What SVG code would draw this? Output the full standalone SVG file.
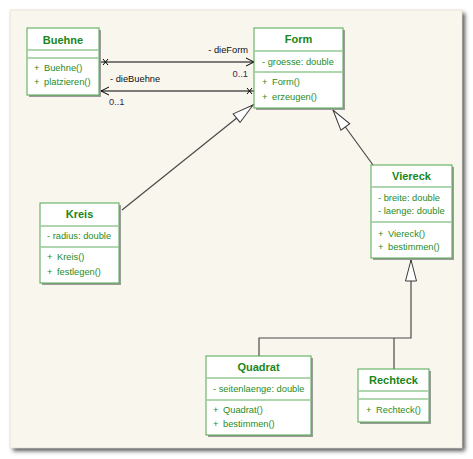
<svg xmlns="http://www.w3.org/2000/svg" width="473" height="459" viewBox="0 0 473 459">
<style>
.box{fill:#ffffff;stroke:#4ea64e;stroke-width:1}
.shd{fill:#9c9c9c}
.sep{stroke:#94c994;stroke-width:1.3}
.ttl{font-family:"Liberation Sans",Arial,sans-serif;font-size:11px;font-weight:bold;fill:#1a861a;text-anchor:middle}
.mem{font-family:"Liberation Sans",Arial,sans-serif;font-size:9.3px;fill:#1f8c1f}
.lbl{font-family:"Liberation Sans",Arial,sans-serif;font-size:9.3px;fill:#111111}
.mul{font-family:"Liberation Sans",Arial,sans-serif;font-size:9.3px;fill:#3a1f4f}
.assoc{stroke:#000000;stroke-width:1;fill:none}
.gen{stroke:#4a4a4a;stroke-width:1.2;fill:none}
</style>
<defs>
<filter id="pblur" x="-5%" y="-5%" width="110%" height="110%"><feGaussianBlur stdDeviation="2"/></filter>
<filter id="bblur" x="-10%" y="-10%" width="120%" height="120%"><feGaussianBlur stdDeviation="0.6"/></filter>
<marker id="tri" markerUnits="userSpaceOnUse" markerWidth="24" markerHeight="14" viewBox="-22 -7 24 14" refX="0" refY="0" orient="auto" overflow="visible">
<path d="M0,0 L-21,-5.5 L-21,5.5 Z" fill="#ffffff" stroke="#3a3a3a" stroke-width="1"/>
</marker>
<marker id="open" markerUnits="userSpaceOnUse" markerWidth="12" markerHeight="12" viewBox="-10 -6 12 12" refX="0" refY="0" orient="auto-start-reverse" overflow="visible">
<path d="M-8,-4 L0,0 L-8,4" fill="none" stroke="#000000" stroke-width="1"/>
</marker>
<marker id="xs" markerUnits="userSpaceOnUse" markerWidth="12" markerHeight="12" viewBox="-2 -6 12 12" refX="0" refY="0" orient="auto" overflow="visible">
<path d="M2,-3 L7,3 M2,3 L7,-3" fill="none" stroke="#000000" stroke-width="1"/>
</marker>
<marker id="xe" markerUnits="userSpaceOnUse" markerWidth="12" markerHeight="12" viewBox="-10 -6 12 12" refX="0" refY="0" orient="auto" overflow="visible">
<path d="M-2,-3 L-7,3 M-2,3 L-7,-3" fill="none" stroke="#000000" stroke-width="1"/>
</marker>
</defs>
<rect x="0" y="0" width="473" height="459" fill="#ffffff"/>
<rect x="13" y="13" width="452" height="438" fill="#555555" filter="url(#pblur)"/>
<rect x="10" y="10" width="452" height="438" fill="#f9f6ee" stroke="#e6e2d8" stroke-width="0.8"/>

<g id="connectors">
<line class="assoc" x1="101" y1="62" x2="254" y2="62" marker-start="url(#xs)" marker-end="url(#open)"/>
<line class="assoc" x1="101" y1="91" x2="254" y2="91" marker-start="url(#open)" marker-end="url(#xe)"/>
<text class="lbl" x="248" y="53" text-anchor="end">- dieForm</text>
<text class="mul" x="248" y="77" text-anchor="end">0..1</text>
<text class="lbl" x="110" y="82">- dieBuehne</text>
<text class="mul" x="109" y="105">0..1</text>
<line class="gen" x1="122" y1="210" x2="253" y2="105" marker-end="url(#tri)"/>
<line class="gen" x1="373" y1="165" x2="333" y2="110" marker-end="url(#tri)"/>
<polyline class="gen" points="259,356 259,338 411,338 411,260" marker-end="url(#tri)"/>
<line class="gen" x1="394" y1="338" x2="394" y2="369"/>
</g>

<g id="Buehne">
<rect class="shd" x="29" y="30" width="72" height="67" filter="url(#bblur)"/>
<rect class="box" x="27" y="28" width="72" height="67"/>
<line class="sep" x1="27.5" y1="50" x2="98.5" y2="50"/>
<line class="sep" x1="27.5" y1="58" x2="98.5" y2="58"/>
<text class="ttl" x="63" y="44">Buehne</text>
<text class="mem" x="34" y="71">+<tspan x="44">Buehne()</tspan></text>
<text class="mem" x="34" y="84.5">+<tspan x="44">platzieren()</tspan></text>
</g>

<g id="Form">
<rect class="shd" x="256" y="30" width="89" height="80" filter="url(#bblur)"/>
<rect class="box" x="254" y="28" width="89" height="80"/>
<line class="sep" x1="254.5" y1="51" x2="342.5" y2="51"/>
<line class="sep" x1="254.5" y1="72" x2="342.5" y2="72"/>
<text class="ttl" x="298.5" y="43">Form</text>
<text class="mem" x="262" y="64.5">- groesse: double</text>
<text class="mem" x="262" y="85">+<tspan x="272">Form()</tspan></text>
<text class="mem" x="262" y="99.5">+<tspan x="272">erzeugen()</tspan></text>
</g>

<g id="Kreis">
<rect class="shd" x="42" y="205" width="79" height="80" filter="url(#bblur)"/>
<rect class="box" x="40" y="203" width="79" height="80"/>
<line class="sep" x1="40.5" y1="226" x2="118.5" y2="226"/>
<line class="sep" x1="40.5" y1="247" x2="118.5" y2="247"/>
<text class="ttl" x="79.5" y="218">Kreis</text>
<text class="mem" x="47" y="238.5">- radius: double</text>
<text class="mem" x="47" y="260">+<tspan x="57">Kreis()</tspan></text>
<text class="mem" x="47" y="274.5">+<tspan x="57">festlegen()</tspan></text>
</g>

<g id="Viereck">
<rect class="shd" x="373" y="167" width="81" height="93" filter="url(#bblur)"/>
<rect class="box" x="371" y="165" width="81" height="93"/>
<line class="sep" x1="371.5" y1="187" x2="451.5" y2="187"/>
<line class="sep" x1="371.5" y1="222" x2="451.5" y2="222"/>
<text class="ttl" x="411.5" y="180">Viereck</text>
<text class="mem" x="378" y="200.5">- breite: double</text>
<text class="mem" x="378" y="214">- laenge: double</text>
<text class="mem" x="378" y="236.5">+<tspan x="388">Viereck()</tspan></text>
<text class="mem" x="378" y="250">+<tspan x="388">bestimmen()</tspan></text>
</g>

<g id="Quadrat">
<rect class="shd" x="208" y="358" width="105" height="79" filter="url(#bblur)"/>
<rect class="box" x="206" y="356" width="105" height="79"/>
<line class="sep" x1="206.5" y1="378" x2="310.5" y2="378"/>
<line class="sep" x1="206.5" y1="400" x2="310.5" y2="400"/>
<text class="ttl" x="258.5" y="371">Quadrat</text>
<text class="mem" x="213" y="391.5">- seitenlaenge: double</text>
<text class="mem" x="213" y="412.5">+<tspan x="223">Quadrat()</tspan></text>
<text class="mem" x="213" y="426.5">+<tspan x="223">bestimmen()</tspan></text>
</g>

<g id="Rechteck">
<rect class="shd" x="360" y="371" width="71" height="53" filter="url(#bblur)"/>
<rect class="box" x="358" y="369" width="71" height="53"/>
<line class="sep" x1="358.5" y1="391" x2="428.5" y2="391"/>
<line class="sep" x1="358.5" y1="399" x2="428.5" y2="399"/>
<text class="ttl" x="393.5" y="384">Rechteck</text>
<text class="mem" x="366" y="412.5">+<tspan x="376">Rechteck()</tspan></text>
</g>
</svg>
